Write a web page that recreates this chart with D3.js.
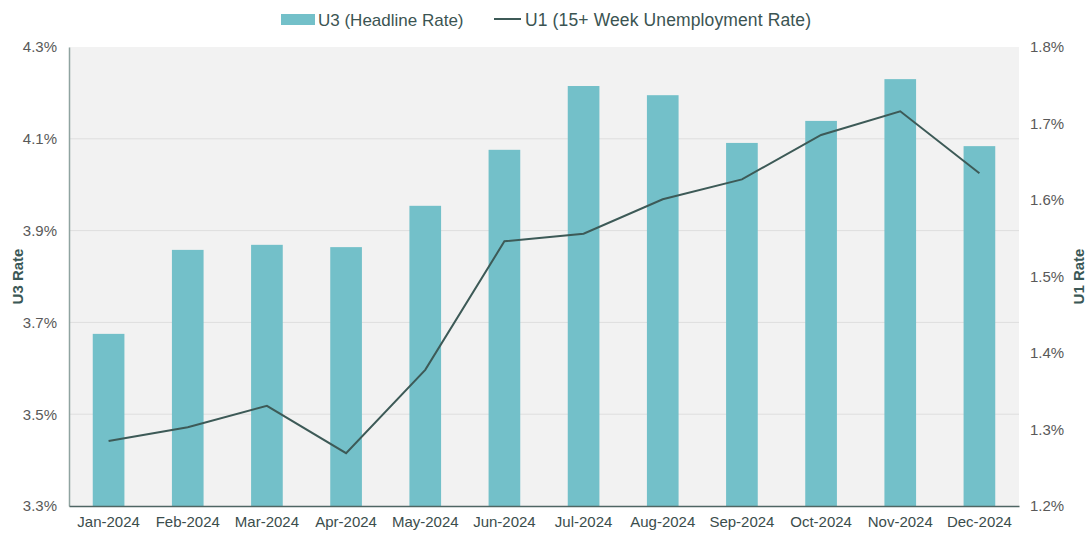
<!DOCTYPE html>
<html>
<head>
<meta charset="utf-8">
<script src="https://cdn.jsdelivr.net/npm/d3@7"></script>
<style>
  body { margin: 0; background: #fff; }
  text { font-family: "Liberation Sans", Arial, sans-serif; }
</style>
</head>
<body>
<script>
var months = ['Jan-2024', 'Feb-2024', 'Mar-2024', 'Apr-2024', 'May-2024', 'Jun-2024',
  'Jul-2024', 'Aug-2024', 'Sep-2024', 'Oct-2024', 'Nov-2024', 'Dec-2024']
var u3 = [3.675, 3.858, 3.869, 3.864, 3.954, 4.076, 4.215, 4.195, 4.091, 4.139, 4.230, 4.084]
var u1 = [1.285, 1.303, 1.331, 1.269, 1.378, 1.546, 1.556, 1.601, 1.627, 1.685, 1.716, 1.635]
var leftTicks = [3.3, 3.5, 3.7, 3.9, 4.1, 4.3]
var rightTicks = [1.2, 1.3, 1.4, 1.5, 1.6, 1.7, 1.8]

var margin = {top: 47, right: 68, bottom: 28, left: 69}
var W = 1087, H = 534
var width = W - margin.left - margin.right
var height = H - margin.top - margin.bottom

var x = d3.scaleBand().domain(months).range([0, width]).paddingInner(0.6).paddingOuter(0.3)
var yL = d3.scaleLinear().domain([3.3, 4.3]).range([height, 0])
var yR = d3.scaleLinear().domain([1.2, 1.8]).range([height, 0])

var svg = d3.select('body').append('svg')
  .attr('width', W)
  .attr('height', H)
var g = svg.append('g')
  .attr('transform', `translate(${margin.left}, ${margin.top})`)

g.append('rect')
  .attr('width', width)
  .attr('height', height)
  .attr('fill', '#f2f2f2')

g.selectAll('.grid')
  .data(leftTicks.slice(1, -1))
  .enter().append('line')
  .attr('x1', 0).attr('x2', width)
  .attr('y1', d => yL(d)).attr('y2', d => yL(d))
  .attr('stroke', '#dedede')
  .attr('stroke-width', 1)

g.selectAll('.bar')
  .data(u3)
  .enter().append('rect')
  .attr('x', (d, i) => x(months[i]))
  .attr('width', x.bandwidth())
  .attr('y', d => yL(d))
  .attr('height', d => height - yL(d))
  .attr('fill', '#73c0c9')

var line = d3.line()
  .x((d, i) => x(months[i]) + x.bandwidth() / 2)
  .y(d => yR(d))
g.append('path')
  .datum(u1)
  .attr('d', line)
  .attr('fill', 'none')
  .attr('stroke', '#3d5a57')
  .attr('stroke-width', 2)

// left axis
var left = g.append('g')
  .call(d3.axisLeft(yL).tickValues(leftTicks).tickSize(0).tickPadding(12).tickFormat(d => d.toFixed(1) + '%'))
left.select('.domain').attr('stroke', '#8fa3a0').attr('stroke-width', 1.5)
left.selectAll('text').attr('fill', '#595959').style('font-size', '15px')

// right axis
var right = g.append('g')
  .attr('transform', `translate(${width}, 0)`)
  .call(d3.axisRight(yR).tickValues(rightTicks).tickSize(0).tickPadding(11).tickFormat(d => d.toFixed(1) + '%'))
right.select('.domain').remove()
right.selectAll('text').attr('fill', '#595959').style('font-size', '15px')

// bottom axis
var bottom = g.append('g')
  .attr('transform', `translate(0, ${height})`)
  .call(d3.axisBottom(x).tickSize(0).tickPadding(10))
bottom.select('.domain').attr('stroke', '#4f6664').attr('stroke-width', 1.5)
bottom.selectAll('text').attr('fill', '#3b4d4c').style('font-size', '15px')

// axis titles
svg.append('text')
  .attr('transform', `translate(23, ${margin.top + height / 2}) rotate(-90)`)
  .attr('text-anchor', 'middle')
  .attr('fill', '#3b5856')
  .style('font-size', '15px')
  .style('font-weight', 'bold')
  .text('U3 Rate')
svg.append('text')
  .attr('transform', `translate(1084, ${margin.top + height / 2}) rotate(-90)`)
  .attr('text-anchor', 'middle')
  .attr('fill', '#3b5856')
  .style('font-size', '15px')
  .style('font-weight', 'bold')
  .text('U1 Rate')

// legend
var leg = svg.append('g')
leg.append('rect')
  .attr('x', 281).attr('y', 14).attr('width', 34).attr('height', 11)
  .attr('fill', '#73c0c9')
leg.append('text')
  .attr('x', 318).attr('y', 26)
  .attr('fill', '#3b5452')
  .style('font-size', '17px')
  .text('U3 (Headline Rate)')
leg.append('line')
  .attr('x1', 494).attr('x2', 521).attr('y1', 19).attr('y2', 19)
  .attr('stroke', '#3d5a57').attr('stroke-width', 2)
leg.append('text')
  .attr('x', 525).attr('y', 26)
  .attr('fill', '#3b5452')
  .style('font-size', '17.5px')
  .attr('textLength', 286)
  .text('U1 (15+ Week Unemployment Rate)')
</script>
</body>
</html>
